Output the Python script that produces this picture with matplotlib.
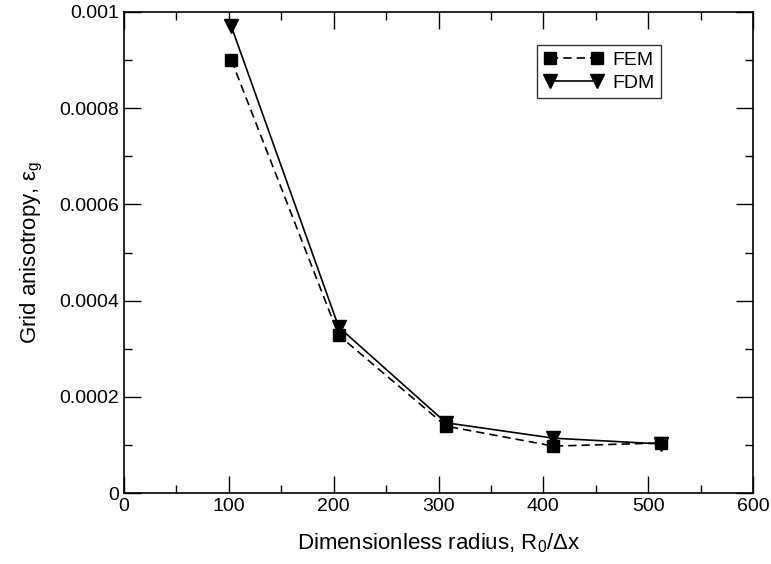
import matplotlib
matplotlib.use("Agg")
import matplotlib.pyplot as plt
from matplotlib.ticker import MultipleLocator, FixedLocator

plt.rcParams['font.family'] = ['Liberation Sans', 'DejaVu Sans']
plt.rcParams['mathtext.fontset'] = 'custom'
plt.rcParams['mathtext.rm'] = 'Liberation Sans'
plt.rcParams['mathtext.it'] = 'Liberation Sans'

# Data
radius = [102.4, 204.8, 307.2, 409.6, 512.0]
fem = [0.00090, 0.000328, 0.000139, 0.0000975, 0.000104]
fdm = [0.000970, 0.000345, 0.000146, 0.000114, 0.000102]

y_ticks = [0, 0.0002, 0.0004, 0.0006, 0.0008, 0.001]
y_tick_labels = ["0", "0.0002", "0.0004", "0.0006", "0.0008", "0.001"]

fig = plt.figure(figsize=(7.71, 5.64), dpi=100)
ax = fig.add_axes([124 / 771, 71 / 564, 629 / 771, 481 / 564])

ax.plot(radius, fem, color='black', linestyle=(0, (5, 3)), linewidth=1.2,
        marker='s', markersize=9, label='FEM')
ax.plot(radius, fdm, color='black', linestyle='-', linewidth=1.2,
        marker='v', markersize=10, label='FDM')

ax.set_xlim(0, 600)
ax.set_ylim(0, 0.001)
ax.xaxis.set_major_locator(MultipleLocator(100))
ax.xaxis.set_minor_locator(MultipleLocator(50))
ax.yaxis.set_major_locator(FixedLocator(y_ticks))
ax.set_yticklabels(y_tick_labels)
ax.yaxis.set_minor_locator(MultipleLocator(0.0001))

ax.tick_params(which='both', direction='in', top=True, right=True,
               labelsize=14, width=1)
ax.tick_params(which='major', length=12)
ax.tick_params(which='minor', length=6)
for s in ax.spines.values():
    s.set_linewidth(1.2)

ax.set_xlabel(r'Dimensionless radius, R$_0$/$\Delta$x', fontsize=16, labelpad=12)
ax.set_ylabel(r'Grid anisotropy, $\varepsilon_{\rm g}$', fontsize=16, labelpad=10)

leg = ax.legend(loc='upper left', bbox_to_anchor=(0.657, 0.932), fontsize=14,
                frameon=True, fancybox=False, edgecolor='black', numpoints=2,
                handlelength=3.0, handletextpad=0.5, borderpad=0.35,
                labelspacing=0.25, borderaxespad=0)
leg.get_frame().set_linewidth(1.0)

fig.savefig("out.png", dpi=100)
